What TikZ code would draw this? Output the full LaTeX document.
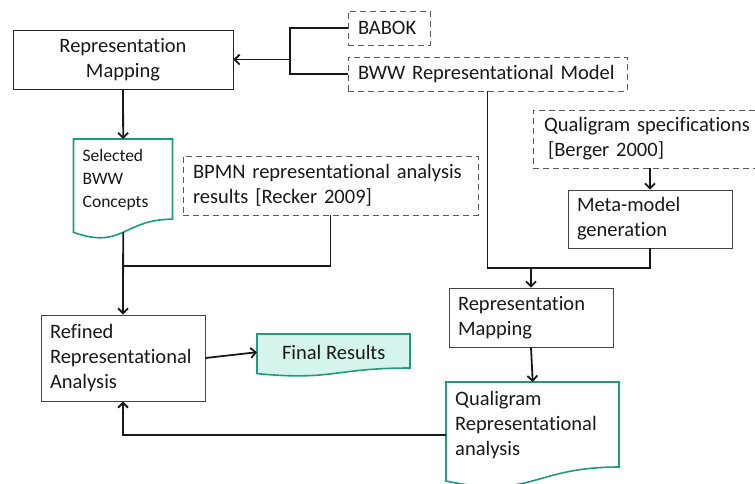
\documentclass[tikz,border=0pt]{standalone}
\usepackage{fontspec}
\setmainfont{Carlito}[Ligatures={NoCommon,NoContextual}]
\usetikzlibrary{arrows.meta,calc}
\definecolor{tealline}{HTML}{1E9B7D}
\definecolor{tealfill}{HTML}{D4F4EC}
\definecolor{dgray}{HTML}{5A5A5A}
\definecolor{bgray}{HTML}{444444}
\newcommand{\mydoc}[5][]{\draw[#1] (#2,#3) -- (#4,#3) -- (#4,{#3+0.802*#5}) .. controls ({(#2+#4)/2},{#3+0.802*#5}) and ({(#2+#4)/2},{#3+1.108*#5}) .. (#2,{#3+0.934*#5}) -- cycle;}
\begin{document}
\begin{tikzpicture}[x=1pt,y=-1pt,
  txt/.style={font=\fontsize{20.5}{25}\selectfont, text=black!90},
  solidbox/.style={draw=bgray, line width=0.9pt, inner ysep=0pt, txt, align=left},
  dashbox/.style={draw=dgray, line width=0.9pt, dash pattern=on 6pt off 4pt, inner ysep=0pt, txt, align=left},
  docline/.style={draw=tealline, line width=1.6pt},
  conn/.style={line width=1.8pt, draw=black!90},
  arr/.style={conn, -{Straight Barb[length=5pt,width=10pt,line width=1.8pt]}}]
\useasboundingbox (0,0) rectangle (755,483);
\clip (0,0) rectangle (755,483);

% boxes
\node[solidbox, draw=black!85, align=center, text width=200pt, inner xsep=10pt, minimum height=59pt] (rm1) at (123,59.5) {Representation\\Mapping};
\node[dashbox, text width=62pt, inner xsep=10pt, minimum height=34pt] (babok) at (389,28) {BABOK};
\node[dashbox, text width=259pt, inner xsep=10pt, minimum height=34pt] (bww) at (487.5,74) {\mbox{BWW Representational Model}};
\node[dashbox, text width=275pt, inner xsep=10pt, minimum height=59pt] (bpmn) at (330.5,185.5) {\mbox{BPMN representational analysis}\\results [Recker 2009]};
\node[dashbox, text width=205pt, inner xsep=11pt, minimum height=58pt] (qspec) at (646.5,139) {\mbox{Qualigram specifications}\\\hspace*{4pt}[Berger 2000]};
\node[solidbox, text width=146pt, inner xsep=9pt, minimum height=58pt] (meta) at (650,219) {Meta-model\\generation};
\node[solidbox, text width=146pt, inner xsep=9pt, minimum height=59pt] (rm2) at (531,317.5) {Representation\\Mapping};
\node[solidbox, text width=146pt, inner xsep=9pt, minimum height=86pt] (ref) at (123,358) {Refined\\\mbox{Representational}\\Analysis};

% documents
\mydoc[docline, fill=white]{73.5}{139}{172.5}{100}
\node[txt, font=\fontsize{17.5}{23}\selectfont, text width=81pt, inner xsep=9pt, inner ysep=0pt, minimum height=82pt, align=left, anchor=north west] (sel) at (73.5,139) {Selected\\BWW\\Concepts};
\mydoc[docline, fill=tealfill]{257}{334}{410}{42.4}
\node[txt, minimum width=153pt, minimum height=36pt, inner sep=0pt, anchor=north west] (final) at (257,334) {Final Results};
\mydoc[docline, fill=white]{446}{382}{619}{106}
\node[txt, text width=155pt, inner xsep=9pt, inner ysep=0pt, minimum height=86pt, align=left, anchor=north west] (qdoc) at (446,382) {Qualigram\\\mbox{Representational}\\analysis};

% connectors
\coordinate (j1) at (290,59.5);
\draw[conn] (babok.west) -- (babok.west -| j1) -- (bww.west -| j1) -- (bww.west);
\draw[arr] (j1) -- (rm1.east);
\draw[arr] (rm1.south) -- (sel.north);
\coordinate (j2) at (123,266);
\draw[arr] ($(sel.north)+(0,93.3)$) -- (ref.north);
\draw[conn] (bpmn.south) |- (j2);
\coordinate (j3) at (531,268);
\draw[conn] (bww.south) |- (j3) -| (meta.south);
\draw[arr] (j3) -- (rm2.north);
\draw[arr] (meta.north |- qspec.south) -- (meta.north);
\draw[arr] (rm2.south) -- (qdoc.north);
\draw[arr] ($(qdoc.north west)+(0,53)$) -| (ref.south);
\draw[arr] (ref.east) -- (final.west);
\end{tikzpicture}
\end{document}
